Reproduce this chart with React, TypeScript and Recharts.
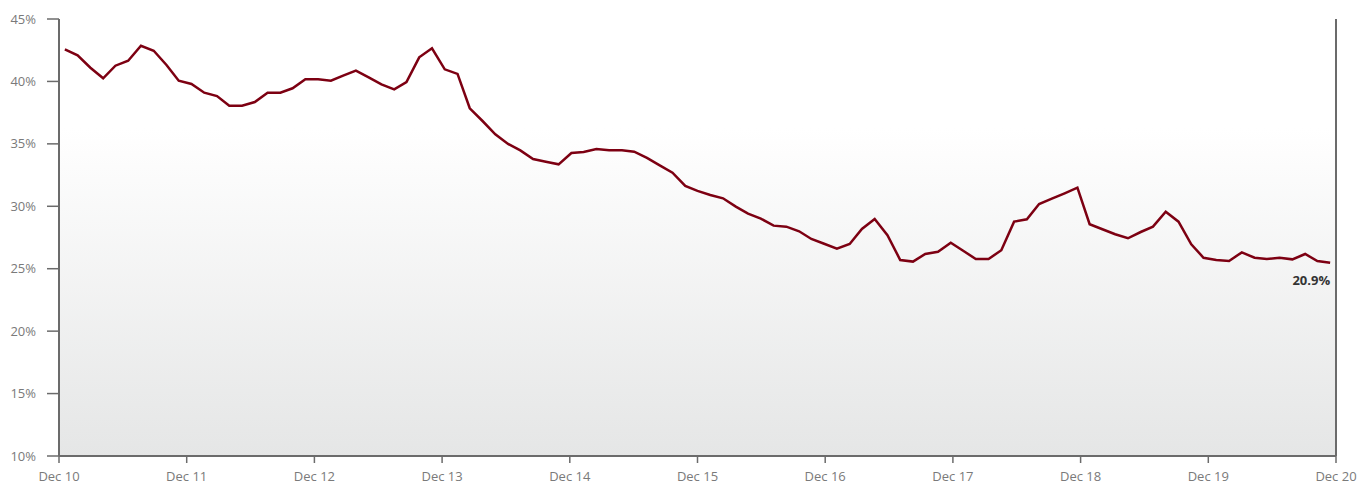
import { LineChart, Line, XAxis, YAxis, ReferenceArea } from 'recharts'

// hours since Dec 10 00:00
const hours = [
  1.1, 3.5, 5.9, 8.3, 10.6, 13.0, 15.4, 17.8, 20.2, 22.5,
  24.9, 27.3, 29.7, 32.0, 34.4, 36.8, 39.2, 41.6, 43.9, 46.3,
  48.7, 51.1, 53.4, 55.8, 58.2, 60.6, 63.0, 65.3, 67.7, 70.1,
  72.5, 74.9, 77.2, 79.6, 82.0, 84.4, 86.7, 89.1, 91.5, 93.9,
  96.3, 98.6, 101.0, 103.4, 105.8, 108.1, 110.5, 112.9, 115.3, 117.7,
  120.0, 122.4, 124.8, 127.2, 129.5, 131.9, 134.3, 136.7, 139.1, 141.4,
  143.8, 146.2, 148.6, 150.9, 153.3, 155.7, 158.1, 160.5, 162.8, 165.2,
  167.6, 170.0, 172.3, 174.7, 177.1, 179.5, 181.9, 184.2, 186.6, 189.0,
  191.4, 193.7, 196.1, 198.5, 200.9, 203.3, 205.6, 208.0, 210.4, 212.8,
  215.1, 217.5, 219.9, 222.3, 224.7, 227.0, 229.4, 231.8, 234.2, 236.5,
  238.9,
]

const rates = [
  42.57, 42.09, 41.1, 40.25, 41.26, 41.66, 42.86, 42.46, 41.32, 40.06,
  39.8, 39.1, 38.83, 38.06, 38.06, 38.35, 39.1, 39.1, 39.45, 40.17,
  40.17, 40.06, 40.46, 40.86, 40.33, 39.77, 39.37, 39.95, 41.93, 42.65,
  40.97, 40.6, 37.85, 36.83, 35.77, 34.99, 34.48, 33.79, 33.57, 33.36,
  34.27, 34.35, 34.59, 34.48, 34.48, 34.37, 33.87, 33.28, 32.69, 31.63,
  31.23, 30.9, 30.64, 29.97, 29.41, 29.01, 28.45, 28.37, 28.0, 27.38,
  27.0, 26.6, 26.98, 28.18, 28.98, 27.68, 25.7, 25.57, 26.18, 26.36,
  27.08, 26.42, 25.78, 25.78, 26.48, 28.77, 28.96, 30.18, 30.61, 31.04,
  31.49, 28.56, 28.16, 27.76, 27.44, 27.94, 28.37, 29.57, 28.77, 26.96,
  25.88, 25.7, 25.62, 26.31, 25.88, 25.78, 25.88, 25.75, 26.18, 25.62,
  25.48,
]

const dayTicks = [0, 24, 48, 72, 96, 120, 144, 168, 192, 216, 240]
const dayLabels = ['Dec 10', 'Dec 11', 'Dec 12', 'Dec 13', 'Dec 14', 'Dec 15', 'Dec 16', 'Dec 17', 'Dec 18', 'Dec 19', 'Dec 20']
const pctTicks = [10, 15, 20, 25, 30, 35, 40, 45]
const endLabel = '20.9%'

const data = hours.map((h, i) => ({ hour: h, rate: rates[i] }))

const font = '"Open Sans", sans-serif'
const axisColor = '#6b6b6b'

function EndLabel(props: any) {
  const { x, y, index } = props
  if (index !== rates.length - 1) return null
  return (
    <text x={x} y={y + 22} textAnchor="end" fontSize={13} fontWeight={700} fill="#333" fontFamily={font}>
      {endLabel}
    </text>
  )
}

export default function App() {
  return (
    <div style={{ position: 'absolute', left: 0, top: 0 }}>
      <LineChart width={1360} height={483} data={data} margin={{ top: 19, right: 0, bottom: 0, left: 0 }}>
        <defs>
          <linearGradient id="bgFill" x1="0" y1="0" x2="0" y2="1">
            <stop offset="0%" stopColor="#ffffff" />
            <stop offset="25%" stopColor="#ffffff" />
            <stop offset="100%" stopColor="#e5e6e6" />
          </linearGradient>
        </defs>
        <XAxis
          dataKey="hour"
          type="number"
          domain={[0, 240]}
          ticks={dayTicks}
          tickFormatter={(h: number) => dayLabels[dayTicks.indexOf(h)]}
          height={27}
          tickSize={7}
          tickMargin={9}
          interval={0}
          stroke={axisColor}
          axisLine={{ stroke: axisColor, strokeWidth: 2 }}
          tickLine={{ stroke: axisColor, strokeWidth: 1.5 }}
          tick={{ fill: '#7a7a7a', fontSize: 13, fontFamily: font }}
        />
        <YAxis
          yAxisId="left"
          type="number"
          domain={[10, 45]}
          ticks={pctTicks}
          tickFormatter={(v: number) => `${v}%`}
          width={59}
          tickSize={12}
          tickMargin={11}
          interval={0}
          axisLine={{ stroke: axisColor, strokeWidth: 2 }}
          tickLine={{ stroke: axisColor, strokeWidth: 1.5 }}
          tick={{ fill: '#7a7a7a', fontSize: 13, fontFamily: font }}
        />
        <YAxis
          yAxisId="right"
          orientation="right"
          type="number"
          domain={[10, 45]}
          width={24}
          tick={false}
          tickLine={false}
          axisLine={{ stroke: axisColor, strokeWidth: 2 }}
        />
        <ReferenceArea yAxisId="left" y1={10} y2={45} fill="url(#bgFill)" fillOpacity={1} stroke="none" />
        <Line
          yAxisId="left"
          type="linear"
          dataKey="rate"
          stroke="#7d0012"
          strokeWidth={2.5}
          dot={false}
          activeDot={false}
          isAnimationActive={false}
          label={<EndLabel />}
        />
      </LineChart>
    </div>
  )
}
